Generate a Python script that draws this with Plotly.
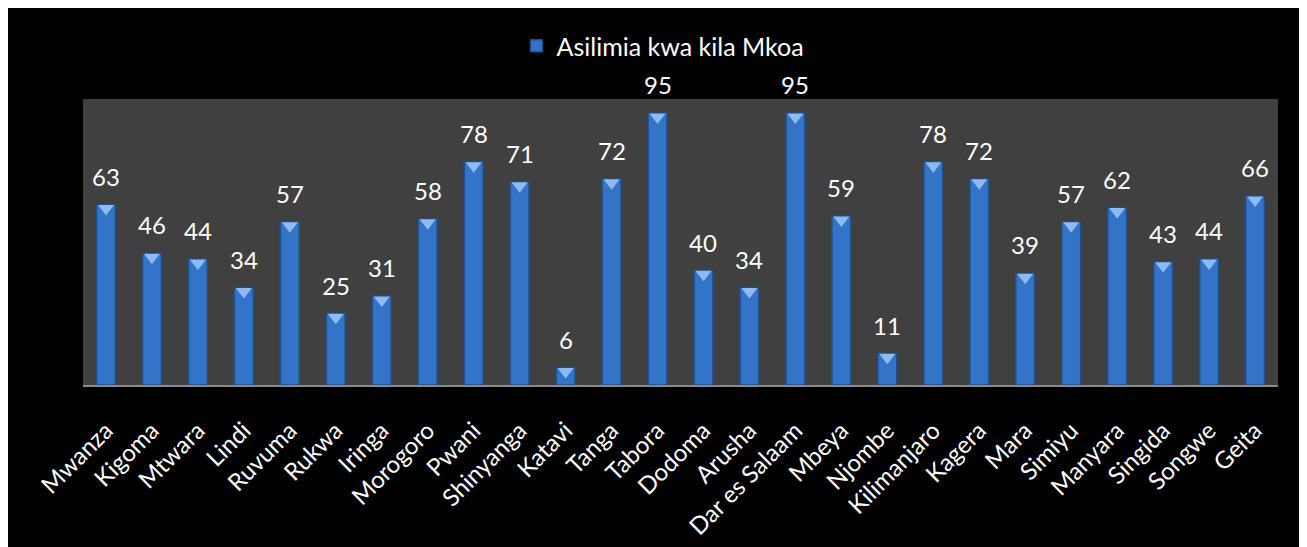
import plotly.graph_objects as go

regions = ["Mwanza", "Kigoma", "Mtwara", "Lindi", "Ruvuma", "Rukwa", "Iringa", "Morogoro",
           "Pwani", "Shinyanga", "Katavi", "Tanga", "Tabora", "Dodoma", "Arusha",
           "Dar es Salaam", "Mbeya", "Njombe", "Kilimanjaro", "Kagera", "Mara", "Simiyu",
           "Manyara", "Singida", "Songwe", "Geita"]
values = [63, 46, 44, 34, 57, 25, 31, 58, 78, 71, 6, 72, 95, 40, 34, 95, 59, 11, 78, 72,
          39, 57, 62, 43, 44, 66]
series_name = "Asilimia kwa kila Mkoa"

W, H = 1307, 547
OFF = 8  # page body margin
L, R, T = 83 - OFF, W - (1278 - OFF), 99 - OFF
B = H - (385 - OFF)
pw = W - L - R
ph = H - T - B

def py2y(py):
    return (H - B - (py - OFF)) / ph

def px2x(px):
    return (px - OFF - L) / pw

FONT = "Lato, 'Open Sans', sans-serif"

fig = go.Figure()
fig.add_trace(go.Bar(
    x=regions, y=values, name=series_name,
    marker=dict(color="#3474C8", line=dict(color="#1E4F8F", width=1.5)),
))
# bevel highlight on bar tops
fig.add_trace(go.Scatter(
    x=regions, y=[v - 1.3 for v in values], mode="markers", showlegend=False,
    hoverinfo="skip",
    marker=dict(symbol="triangle-down", size=14, color="#8DBBF0", line=dict(width=0)),
))

annotations = [
    dict(x=r, y=v, text=str(v), showarrow=False, yanchor="bottom", yshift=12,
         font=dict(color="white", size=24, family=FONT))
    for r, v in zip(regions, values)
]

fig.update_layout(
    width=W, height=H,
    margin=dict(l=L, r=R, t=T, b=B, autoexpand=False),
    paper_bgcolor="black", plot_bgcolor="#404040",
    bargap=0.59,
    font=dict(family=FONT, color="white"),
    showlegend=True,
    legend=dict(orientation="h", x=px2x(663), xanchor="center", y=py2y(46), yanchor="middle",
                font=dict(size=25, color="white", family=FONT), bgcolor="rgba(0,0,0,0)"),
    xaxis=dict(tickangle=-45, tickfont=dict(size=24, color="white", family=FONT),
               showgrid=False, showline=True, linecolor="#8a8a8a", linewidth=2,
               ticks="", zeroline=False, ticklabelstandoff=20, automargin=False,
               range=[-0.5, len(regions) - 0.5]),
    yaxis=dict(range=[0, 100], visible=False, showgrid=False, automargin=False),
    annotations=annotations,
)

fig.write_html("out.html")
